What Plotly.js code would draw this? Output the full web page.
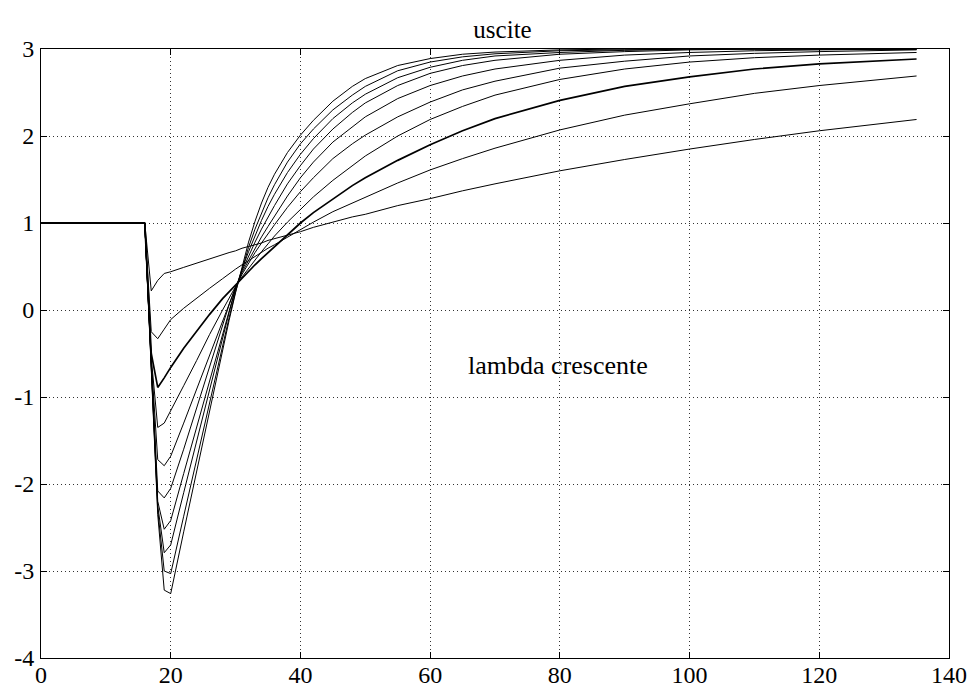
<!DOCTYPE html>
<html><head><meta charset="utf-8">
<script src="https://cdn.plot.ly/plotly-3.0.1.min.js"></script>
<style>html,body{margin:0;padding:0;background:#fff}#chart{width:972px;height:687px}</style>
</head><body><div id="chart"></div>
<script>
// sample times (x)
const t = [0,16,17,18,19,20,22,24,26,28,29,30,31,32,33,34,35,36,38,40,42,45,48,50,55,60,65,70,80,90,100,110,120,135];
// outputs, lambda from largest (c1) to smallest (c10)
const c1  = [1,1, 0.22, 0.34, 0.42, 0.44, 0.49, 0.54, 0.59, 0.64, 0.66, 0.68, 0.71, 0.73, 0.75, 0.77, 0.80, 0.82, 0.86, 0.90, 0.95, 1.01, 1.07, 1.10, 1.20, 1.28, 1.37, 1.45, 1.60, 1.73, 1.85, 1.96, 2.06, 2.19];
const c2  = [1,1,-0.25,-0.33,-0.22,-0.11, 0.02, 0.14, 0.25, 0.36, 0.42, 0.47, 0.52, 0.57, 0.62, 0.66, 0.71, 0.75, 0.84, 0.93, 1.01, 1.13, 1.23, 1.30, 1.46, 1.61, 1.74, 1.86, 2.07, 2.24, 2.37, 2.49, 2.58, 2.69];
const c3  = [1,1,-0.50,-0.89,-0.78,-0.66,-0.44,-0.24,-0.05, 0.13, 0.21, 0.29, 0.37, 0.45, 0.52, 0.59, 0.66, 0.73, 0.87, 1.00, 1.12, 1.28, 1.43, 1.52, 1.72, 1.90, 2.06, 2.20, 2.41, 2.57, 2.68, 2.77, 2.83, 2.885];
const c4  = [1,1,-0.55,-1.35,-1.30,-1.16,-0.87,-0.58,-0.28, 0.00, 0.14, 0.27, 0.38, 0.48, 0.58, 0.67, 0.76, 0.85, 1.01, 1.16, 1.30, 1.49, 1.66, 1.77, 2.00, 2.19, 2.34, 2.47, 2.65, 2.77, 2.85, 2.90, 2.93, 2.96];
const c5  = [1,1,-0.58,-1.72,-1.79,-1.68,-1.30,-0.91,-0.52,-0.13, 0.08, 0.26, 0.41, 0.54, 0.66, 0.77, 0.88, 0.98, 1.18, 1.36, 1.52, 1.74, 1.91, 2.01, 2.22, 2.39, 2.53, 2.63, 2.78, 2.86, 2.92, 2.95, 2.97, 2.99];
const c6  = [1,1,-0.60,-2.08,-2.16,-2.05,-1.60,-1.13,-0.66,-0.18, 0.06, 0.26, 0.43, 0.57, 0.71, 0.84, 0.96, 1.08, 1.31, 1.52, 1.70, 1.93, 2.11, 2.22, 2.43, 2.58, 2.69, 2.77, 2.87, 2.93, 2.96, 2.98, 2.99, 3.00];
const c7  = [1,1,-0.62,-2.20,-2.52,-2.42,-1.88,-1.34,-0.80,-0.26, 0.01, 0.25, 0.45, 0.62, 0.78, 0.93, 1.07, 1.20, 1.45, 1.66, 1.85, 2.08, 2.27, 2.38, 2.58, 2.72, 2.81, 2.87, 2.94, 2.97, 2.99, 3.00, 3.00, 3.00];
const c8  = [1,1,-0.64,-2.25,-2.79,-2.70,-2.10,-1.50,-0.90,-0.32,-0.03, 0.24, 0.47, 0.67, 0.86, 1.03, 1.19, 1.33, 1.58, 1.79, 1.97, 2.20, 2.38, 2.48, 2.67, 2.79, 2.87, 2.92, 2.96, 2.985, 3.00, 3.00, 3.00, 3.00];
const c9  = [1,1,-0.66,-2.30,-3.00,-3.03,-2.37,-1.71,-1.05,-0.40,-0.09, 0.21, 0.48, 0.72, 0.93, 1.12, 1.29, 1.44, 1.70, 1.91, 2.08, 2.30, 2.47, 2.57, 2.75, 2.85, 2.91, 2.945, 2.98, 2.99, 3.00, 3.00, 3.00, 3.00];
const c10 = [1,1,-0.68,-2.35,-3.22,-3.26,-2.55,-1.85,-1.13,-0.44,-0.12, 0.20, 0.50, 0.78, 1.02, 1.23, 1.41, 1.56, 1.81, 2.01, 2.18, 2.40, 2.57, 2.66, 2.81, 2.89, 2.94, 2.965, 2.99, 3.00, 3.00, 3.00, 3.00, 3.00];
const series = [c1,c2,c3,c4,c5,c6,c7,c8,c9,c10];
const widths = [1,1,1.7,1,1,1,1,1,1,1];
const xTicks = [0,20,40,60,80,100,120,140];
const yTicks = [-4,-3,-2,-1,0,1,2,3];
const titleText = 'uscite';
const noteText = 'lambda crescente';

const traces = series.map((s,i)=>({
  x: t, y: s, type:'scatter', mode:'lines',
  line:{color:'#000', width:widths[i]}, hoverinfo:'skip'
}));

const axisCommon = {
  ticks:'inside', ticklen:6, tickcolor:'#000', tickwidth:1,
  showline:true, linecolor:'#000', linewidth:1, mirror:'allticks',
  showgrid:true, gridcolor:'#333', griddash:'1px,3px', gridwidth:1,
  zeroline:false
};

const layout = {
  width:972, height:687,
  margin:{l:41, r:23, t:49, b:29, pad:0},
  paper_bgcolor:'#fff', plot_bgcolor:'#fff',
  showlegend:false,
  font:{family:'"Liberation Serif", "Times New Roman", serif', size:24, color:'#000'},
  title:{text:titleText, x:0.517, xanchor:'center', y:1-29/687, yanchor:'middle', yref:'container',
         font:{family:'"Liberation Serif", serif', size:25, color:'#000'}},
  xaxis:Object.assign({range:[0,140], tickvals:xTicks, ticktext:xTicks.map(String), ticklabelstandoff:-5}, axisCommon),
  yaxis:Object.assign({range:[-4,3], tickvals:yTicks, ticktext:yTicks.map(String), ticklabelstandoff:1}, axisCommon),
  annotations:[{x:79.7, y:-0.64, xref:'x', yref:'y', text:noteText, showarrow:false,
    xanchor:'center', yanchor:'middle', font:{family:'"Liberation Serif", serif', size:26, color:'#000'}}]
};

Plotly.newPlot('chart', traces, layout, {displayModeBar:false, staticPlot:true});
</script>
</body></html>
